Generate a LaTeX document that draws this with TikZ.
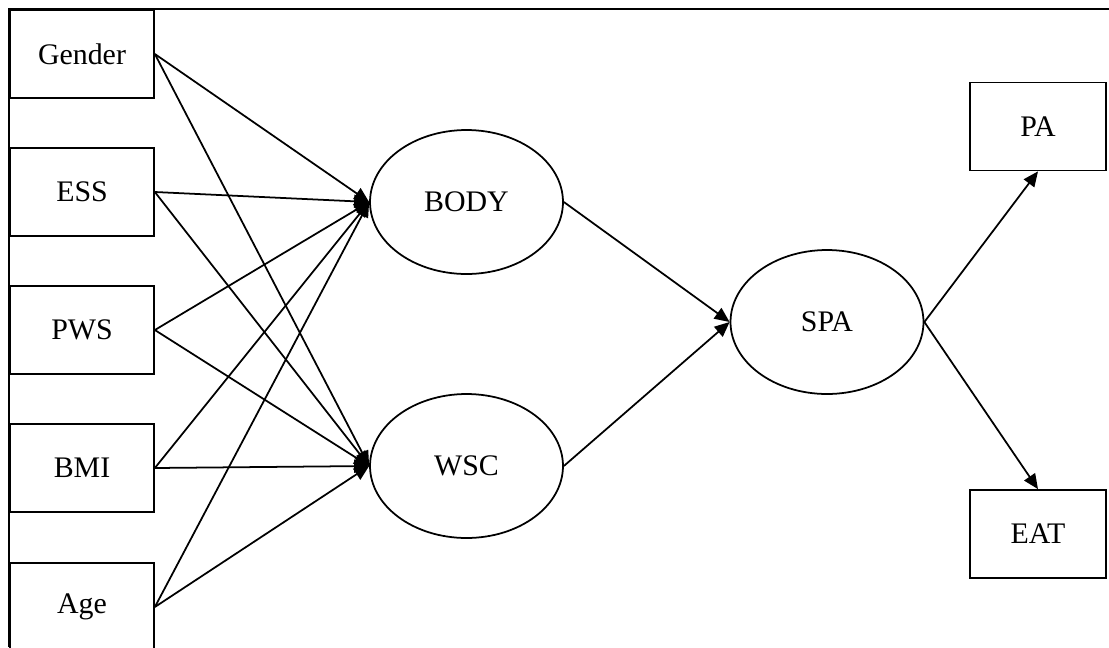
\documentclass[tikz,border=0pt]{standalone}
\usepackage{fontspec}
\setmainfont{Liberation Serif}
\usetikzlibrary{arrows.meta,shapes.geometric}
\begin{document}
\begin{tikzpicture}[x=0.02cm, y=-0.02cm,
    every node/.style={font=\fontsize{17}{20}\selectfont, line width=1pt, inner sep=0pt},
    box/.style={rectangle, draw, minimum width=2.88cm, minimum height=1.76cm},
    latent/.style={ellipse, draw, minimum width=3.86cm, minimum height=2.88cm},
    every edge/.style={draw, line width=1pt, -{Triangle[length=0.3cm, width=0.26cm]}}]
      \useasboundingbox (0,0) rectangle (1109,647);
      \draw[line width=1pt] (9,647) |- (1109,9);
      \node (gender) at (82,54) [box] {Gender};
      \node (ess) at (82,192) [box] {ESS};
      \node (pws) at (82,330) [box] {PWS};
      \node (bmi) at (82,468) [box] {BMI};
      \node (age) at (82,607) [box] {Age};
      \node (body) at (466.5,202) [latent] {BODY};
      \node (wsc) at (466.5,466) [latent] {WSC};
      \node (spa) at (827,322) [latent] {SPA};
      \node (pa) at (1038,126.5) [box, minimum width=2.72cm] {PA};
      \node (eat) at (1038,534) [box, minimum width=2.72cm] {EAT};
      \foreach \source/\dest in {gender/body, gender/wsc, ess/body, ess/wsc, pws/body, pws/wsc, bmi/body, bmi/wsc, age/body, age/wsc, body/spa, wsc/spa}
        \path (\source.east) edge (\dest.west);
      \path (spa.east) edge (pa.south);
      \path (spa.east) edge (eat.north);
    \end{tikzpicture}
\end{document}
